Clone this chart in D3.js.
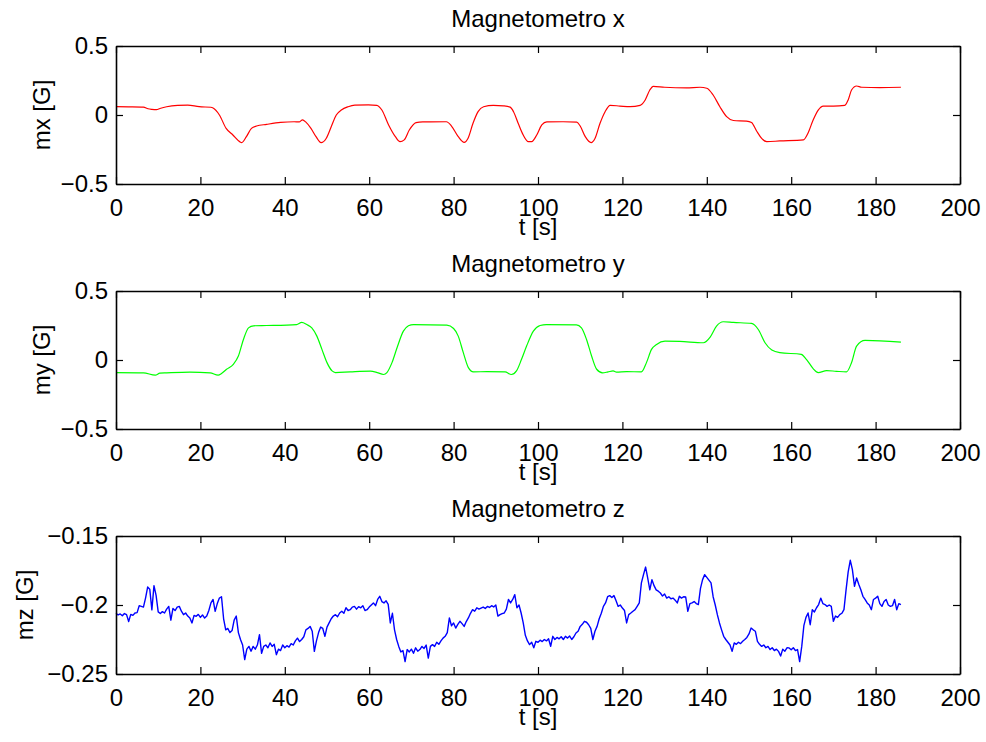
<!DOCTYPE html>
<html>
<head>
<meta charset="utf-8">
<script src="https://cdn.jsdelivr.net/npm/d3@7"></script>
<style>
  body { margin: 0; background: #fff; }
  svg text { font-family: "Liberation Sans", Arial, Helvetica, sans-serif; fill: #000; }
</style>
</head>
<body>
<div id="chart"></div>
<script>
// time axis shared by the three panels
const tDomain = [0, 200];
const tTicks = [0, 20, 40, 60, 80, 100, 120, 140, 160, 180, 200];

// Magnetometro x (keypoints)
const mxTime = [0, 3, 6.5, 7.6, 8.5, 9.6, 10.4, 12, 14.6, 17, 19.7, 22.5, 22.9, 24.5, 26.1, 27.7, 29.3, 29.8,
  30.9, 32.1, 33.3, 35.7, 39, 42.2, 43.4, 44.2, 45, 46.2, 47.4, 48.6, 49.8, 51, 52.2, 53.4, 55, 56.6, 59.8,
  61.8, 63, 64.6, 66.2, 67.3, 68.3, 69.5, 71.1, 72.7, 78.3, 79.5, 81.1, 82.5, 83.4, 84.6, 85.8, 87.1, 89.4,
  91.8, 93.4, 94.2, 95.3, 96.5, 97.7, 98.5, 99.7, 100.9, 102.1, 106, 109.2, 110, 111.2, 112.6, 113.5, 114.7,
  115.9, 117.1, 119.4, 121.8, 124.2, 125.4, 126.5, 127.3, 130, 135.2, 138.4, 140, 141.5, 143.1, 144.7, 146.3,
  149.4, 150.6, 151.8, 153, 154.2, 157.3, 162.9, 164, 165.2, 166.4, 167.6, 170, 172.7, 173.5, 174.3, 175.5,
  176.7, 181, 186];
const mxValues = [0.060, 0.059, 0.057, 0.045, 0.041, 0.039, 0.047, 0.060, 0.070, 0.072, 0.060, 0.056, 0.052,
  0.0, -0.097, -0.145, -0.193, -0.200, -0.157, -0.097, -0.080, -0.068, -0.054, -0.049, -0.050, -0.035, -0.052,
  -0.097, -0.157, -0.200, -0.170, -0.085, 0.0, 0.036, 0.060, 0.072, 0.074, 0.070, 0.036, -0.072, -0.157,
  -0.193, -0.180, -0.109, -0.055, -0.050, -0.049, -0.080, -0.157, -0.198, -0.170, -0.060, 0.024, 0.060, 0.070,
  0.066, 0.057, 0.024, -0.060, -0.145, -0.193, -0.193, -0.145, -0.072, -0.050, -0.049, -0.052, -0.080, -0.157,
  -0.200, -0.170, -0.060, 0.024, 0.070, 0.065, 0.060, 0.070, 0.109, 0.181, 0.208, 0.201, 0.196, 0.201, 0.194,
  0.145, 0.060, -0.012, -0.040, -0.044, -0.055, -0.116, -0.170, -0.193, -0.188, -0.180, -0.130, -0.036, 0.036,
  0.065, 0.065, 0.070, 0.109, 0.181, 0.210, 0.201, 0.199, 0.201];

// Magnetometro y
const myTime = [0, 6.5, 9.3, 10.4, 12, 17.5, 22.3, 24.2, 25, 26.2, 27.8, 29, 30.2, 31.4, 32.6, 35.7, 42.8, 44,
  45.2, 46.4, 47.6, 48.8, 50, 51.2, 52, 55.5, 60.3, 61.9, 63.4, 64.2, 65.4, 66.6, 68.1, 69.3, 70.5, 78.4, 80,
  81.1, 82.3, 83.5, 84.7, 87.9, 92.2, 93.7, 94.9, 96.1, 97.3, 98.9, 100.5, 102, 109.1, 110.3, 111.5, 112.7,
  113.9, 115.3, 116.6, 117.8, 118.6, 121, 124.5, 125.7, 126.9, 128.1, 130.1, 133.6, 139.2, 140.8, 142.3, 143.9,
  146.3, 150.6, 152.2, 153.8, 155.4, 157.3, 162.4, 163.6, 165.2, 166.4, 168.4, 170.7, 173.1, 174.3, 175.5,
  177.5, 186];
const myValues = [-0.091, -0.093, -0.110, -0.095, -0.093, -0.088, -0.093, -0.110, -0.098, -0.067, -0.031, 0.029,
  0.149, 0.233, 0.248, 0.250, 0.257, 0.272, 0.257, 0.233, 0.173, 0.077, -0.019, -0.079, -0.091, -0.086, -0.081,
  -0.091, -0.105, -0.091, -0.019, 0.089, 0.209, 0.248, 0.257, 0.252, 0.228, 0.173, 0.053, -0.055, -0.086,
  -0.084, -0.086, -0.105, -0.079, 0.005, 0.101, 0.209, 0.250, 0.257, 0.255, 0.233, 0.149, 0.029, -0.067,
  -0.093, -0.086, -0.079, -0.088, -0.084, -0.086, -0.019, 0.077, 0.113, 0.137, 0.135, 0.125, 0.166, 0.245,
  0.277, 0.272, 0.265, 0.221, 0.125, 0.072, 0.053, 0.041, 0.005, -0.062, -0.091, -0.077, -0.082, -0.086,
  -0.019, 0.101, 0.142, 0.130];

// Magnetometro z, one sample every 0.5 s from 0 to 186 s
const mzStep = 0.5;
const mzValues = [
  -0.2060, -0.2072, -0.2065, -0.2078, -0.2062, -0.2070, -0.2120, -0.2068, -0.2075, -0.2058,
  -0.2055, -0.2005, -0.2010, -0.2015, -0.1950, -0.1870, -0.1885, -0.2035, -0.1860, -0.1930,
  -0.2050, -0.2062, -0.2048, -0.2058, -0.2030, -0.2010, -0.2110, -0.2025, -0.2040, -0.2015,
  -0.2010, -0.2045, -0.2070, -0.2058, -0.2080, -0.2094, -0.2130, -0.2075, -0.2082, -0.2068,
  -0.2090, -0.2072, -0.2095, -0.2080, -0.2040, -0.1985, -0.1960, -0.2046, -0.1990, -0.1950,
  -0.1940, -0.2100, -0.2180, -0.2170, -0.2200, -0.2185, -0.2110, -0.2080, -0.2200, -0.2250,
  -0.2290, -0.2396, -0.2320, -0.2300, -0.2335, -0.2300, -0.2320, -0.2290, -0.2215, -0.2350,
  -0.2300, -0.2290, -0.2310, -0.2275, -0.2300, -0.2285, -0.2360, -0.2320, -0.2330, -0.2290,
  -0.2310, -0.2295, -0.2305, -0.2280, -0.2290, -0.2260, -0.2240, -0.2265, -0.2250, -0.2230,
  -0.2180, -0.2170, -0.2155, -0.2190, -0.2336, -0.2260, -0.2200, -0.2160, -0.2170, -0.2227,
  -0.2160, -0.2130, -0.2100, -0.2080, -0.2070, -0.2085, -0.2058, -0.2045, -0.2060, -0.2020,
  -0.2040, -0.2034, -0.2015, -0.2010, -0.2030, -0.2012, -0.2020, -0.2005, -0.2040, -0.2034,
  -0.2015, -0.2000, -0.1985, -0.2005, -0.1960, -0.1937, -0.1975, -0.1985, -0.1970, -0.1995,
  -0.2130, -0.2060, -0.2180, -0.2250, -0.2300, -0.2340, -0.2330, -0.2410, -0.2323, -0.2340,
  -0.2320, -0.2350, -0.2310, -0.2335, -0.2323, -0.2300, -0.2315, -0.2290, -0.2385, -0.2300,
  -0.2287, -0.2300, -0.2270, -0.2285, -0.2260, -0.2240, -0.2227, -0.2200, -0.2094, -0.2150,
  -0.2130, -0.2167, -0.2140, -0.2118, -0.2135, -0.2155, -0.2120, -0.2094, -0.2060, -0.2034,
  -0.2045, -0.2020, -0.2030, -0.2022, -0.2015, -0.2025, -0.2010, -0.2018, -0.2005, -0.2014,
  -0.2000, -0.2080, -0.2070, -0.2062, -0.2058, -0.2030, -0.1960, -0.1985, -0.1960, -0.1925,
  -0.2020, -0.2000, -0.2058, -0.2130, -0.2220, -0.2260, -0.2287, -0.2270, -0.2310, -0.2263,
  -0.2270, -0.2255, -0.2265, -0.2250, -0.2260, -0.2245, -0.2299, -0.2227, -0.2250, -0.2235,
  -0.2245, -0.2230, -0.2250, -0.2227, -0.2240, -0.2225, -0.2250, -0.2230, -0.2203, -0.2190,
  -0.2155, -0.2140, -0.2118, -0.2125, -0.2143, -0.2170, -0.2250, -0.2190, -0.2155, -0.2100,
  -0.2060, -0.2010, -0.1985, -0.1940, -0.1932, -0.1945, -0.1932, -0.1970, -0.2010, -0.2000,
  -0.2022, -0.2040, -0.2130, -0.2070, -0.2058, -0.2045, -0.2034, -0.2010, -0.1985, -0.1840,
  -0.1780, -0.1725, -0.1806, -0.1890, -0.1816, -0.1860, -0.1890, -0.1900, -0.1913, -0.1935,
  -0.1920, -0.1950, -0.1940, -0.1955, -0.1950, -0.1965, -0.1985, -0.1937, -0.1950, -0.1940,
  -0.1942, -0.2046, -0.1990, -0.1985, -0.1975, -0.1990, -0.1997, -0.1880, -0.1816, -0.1780,
  -0.1800, -0.1820, -0.1840, -0.1940, -0.2000, -0.2070, -0.2130, -0.2180, -0.2227, -0.2250,
  -0.2270, -0.2290, -0.2336, -0.2275, -0.2285, -0.2270, -0.2280, -0.2263, -0.2250, -0.2235,
  -0.2210, -0.2167, -0.2180, -0.2190, -0.2263, -0.2285, -0.2300, -0.2290, -0.2310, -0.2300,
  -0.2323, -0.2310, -0.2330, -0.2320, -0.2336, -0.2370, -0.2320, -0.2335, -0.2310, -0.2311,
  -0.2325, -0.2310, -0.2330, -0.2323, -0.2410, -0.2300, -0.2150, -0.2090, -0.2058, -0.2143,
  -0.2034, -0.2050, -0.2020, -0.1997, -0.1950, -0.1990, -0.1997, -0.2010, -0.2000, -0.2010,
  -0.2118, -0.2080, -0.2090, -0.2070, -0.2060, -0.2034, -0.1890, -0.1760, -0.1676, -0.1744,
  -0.1865, -0.1804, -0.1850, -0.1890, -0.1937, -0.1960, -0.1985, -0.2000, -0.2034, -0.1960,
  -0.1950, -0.1937, -0.1990, -0.2010, -0.1975, -0.1960, -0.2000, -0.2010, -0.2005, -0.1960,
  -0.2034, -0.1990, -0.1997
];
const mzTime = mzValues.map((v, i) => i * mzStep);

// y ticks per panel
const mxTicks = [-0.5, 0, 0.5];
const myTicks = [-0.5, 0, 0.5];
const mzTicks = [-0.25, -0.2, -0.15];

const panels = [
  { title: "Magnetometro x", ylabel: "mx [G]", time: mxTime, values: mxValues, domain: [-0.5, 0.5],
    ticks: mxTicks, color: "#ff0000", top: 46, ylabelX: 50, smooth: true, width: 1.2 },
  { title: "Magnetometro y", ylabel: "my [G]", time: myTime, values: myValues, domain: [-0.5, 0.5],
    ticks: myTicks, color: "#00ff00", top: 291, ylabelX: 50, smooth: true, width: 1.2 },
  { title: "Magnetometro z", ylabel: "mz [G]", time: mzTime, values: mzValues, domain: [-0.25, -0.15],
    ticks: mzTicks, color: "#0000ff", top: 536, ylabelX: 33, smooth: false, width: 1.4 }
];

const W = 986, H = 742;
const left = 116, right = 960, plotH = 138;
const fontSize = 24;

const svg = d3.select("#chart")
  .append("svg")
  .attr("width", W)
  .attr("height", H);

// MATLAB-like tick formatting with a real minus sign
const fmt = d => (d < 0 ? "\u2212" : "") + String(Math.abs(d));

const x = d3.scaleLinear().domain(tDomain).range([left, right]);

panels.forEach(p => {
  const y = d3.scaleLinear().domain(p.domain).range([p.top + plotH, p.top]);
  const g = svg.append("g");

  // data line
  const line = d3.line()
    .x((d, i) => x(p.time[i]))
    .y(d => y(d))
    .curve(p.smooth ? d3.curveMonotoneX : d3.curveLinear);

  g.append("path")
    .datum(p.values)
    .attr("fill", "none")
    .attr("stroke", p.color)
    .attr("stroke-width", p.width)
    .attr("stroke-linejoin", "round")
    .attr("d", line);

  // box axes, ticks pointing inward
  const bottomAxis = g.append("g")
    .attr("transform", `translate(0,${p.top + plotH})`)
    .call(d3.axisBottom(x).tickValues(tTicks).tickSizeInner(-7).tickSizeOuter(0).tickPadding(14.5));
  const topAxis = g.append("g")
    .attr("transform", `translate(0,${p.top})`)
    .call(d3.axisTop(x).tickValues(tTicks).tickSizeInner(-7).tickSizeOuter(0).tickFormat(""));
  const leftAxis = g.append("g")
    .attr("transform", `translate(${left},0)`)
    .call(d3.axisLeft(y).tickValues(p.ticks).tickSizeInner(-7).tickSizeOuter(0).tickPadding(8).tickFormat(fmt));
  const rightAxis = g.append("g")
    .attr("transform", `translate(${right},0)`)
    .call(d3.axisRight(y).tickValues(p.ticks).tickSizeInner(-7).tickSizeOuter(0).tickFormat(""));

  [bottomAxis, topAxis, leftAxis, rightAxis].forEach(a => {
    a.selectAll("path.domain").attr("stroke", "#000").attr("stroke-width", 1.6);
    a.selectAll(".tick line").attr("stroke", "#000").attr("stroke-width", 1.2);
    a.selectAll("text").style("font-size", fontSize + "px").attr("fill", "#000");
  });

  // title
  g.append("text")
    .attr("x", (left + right) / 2)
    .attr("y", p.top - 19)
    .attr("text-anchor", "middle")
    .style("font-size", fontSize + "px")
    .text(p.title);

  // x label
  g.append("text")
    .attr("x", (left + right) / 2)
    .attr("y", p.top + plotH + 51)
    .attr("text-anchor", "middle")
    .style("font-size", fontSize + "px")
    .text("t [s]");

  // y label
  g.append("text")
    .attr("transform", `translate(${p.ylabelX},${p.top + plotH / 2}) rotate(-90)`)
    .attr("text-anchor", "middle")
    .style("font-size", fontSize + "px")
    .text(p.ylabel);
});
</script>
</body>
</html>
